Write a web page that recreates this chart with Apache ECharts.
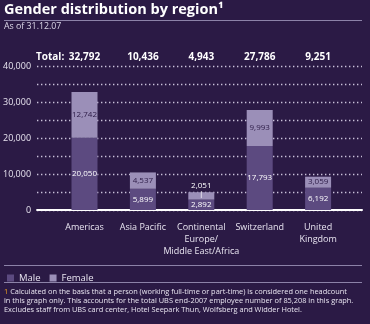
<!DOCTYPE html>
<html><head><meta charset="utf-8">
<script src="https://cdn.jsdelivr.net/npm/echarts@6/dist/echarts.min.js"></script>
<style>html,body{margin:0;padding:0;background:#2b1a45}#c{width:370px;height:324px}</style>
</head><body><div id="c"></div>
<script>
const categories = ['Americas', 'Asia Pacific', 'Continental\nEurope/\nMiddle East/Africa', 'Switzerland', 'United\nKingdom'];
const male = [20050, 5899, 2892, 17793, 6192];
const female = [12742, 4537, 2051, 9993, 3059];
const yTicks = [0, 10000, 20000, 30000, 40000];

const fmt = v => Number(v).toLocaleString('en-US');
const totals = male.map((m, i) => fmt(m + female[i]));
const FONT = 'Open Sans';
const BG = '#2b1a45', MALE = '#5c4a80', FEMALE = '#9b8fb8';

const femaleData = female.map((v, i) => i === 2 ? {
  value: v,
  label: { offset: [0, -6], formatter: p => fmt(p.value) + '\n|', color: '#ffffff', lineHeight: 8 }
} : v);

const chart = echarts.init(document.getElementById('c'), null, {renderer: 'canvas'});
chart.setOption({
  backgroundColor: BG,
  textStyle: { fontFamily: FONT },
  animation: false,
  grid: [
    { left: 55.3, right: 22.7, top: 66, bottom: 114 },
    { left: 36, right: 8, top: 66, bottom: 114 }
  ],
  xAxis: [
    { type: 'category', gridIndex: 0, data: categories,
      axisLine: { show: false }, axisTick: { show: false },
      axisLabel: { color: '#e8e4f0', fontSize: 9, lineHeight: 12, margin: 11, interval: 0, fontFamily: FONT } },
    { type: 'category', gridIndex: 0, position: 'top', data: totals,
      axisLine: { show: false }, axisTick: { show: false },
      axisLabel: { color: '#ffffff', fontSize: 10, fontWeight: 'bold', margin: 4, interval: 0, fontFamily: FONT } },
    { type: 'category', gridIndex: 1, data: [''],
      axisLine: { show: true, lineStyle: { color: '#ffffff', width: 2 } },
      axisTick: { show: false }, axisLabel: { show: false } }
  ],
  yAxis: [
    { type: 'value', gridIndex: 0, min: 0, max: 40000, interval: 5000, show: false, splitLine: { show: false } },
    { type: 'value', gridIndex: 1, min: 0, max: 40000, interval: 5000,
      axisLine: { show: false }, axisTick: { show: false },
      axisLabel: { color: '#e8e4f0', fontSize: 9, margin: 6, fontFamily: FONT,
        formatter: v => yTicks.includes(v) ? fmt(v) : '' },
      splitLine: { show: true, lineStyle: { color: '#d4cde3', width: 1.3, type: [1.3, 2.7] } } }
  ],
  legend: {
    left: 2, top: 268, itemWidth: 7, itemHeight: 7, itemGap: 9, icon: 'rect',
    textStyle: { color: '#e8e4f0', fontSize: 9.5, fontFamily: FONT },
    data: ['Male', 'Female']
  },
  series: [
    { name: 'Male', type: 'bar', stack: 'g', xAxisIndex: 0, yAxisIndex: 0, barWidth: 26,
      itemStyle: { color: MALE }, data: male,
      label: { show: true, position: 'inside', color: '#ffffff', fontSize: 8, formatter: p => fmt(p.value) } },
    { name: 'Female', type: 'bar', stack: 'g', xAxisIndex: 0, yAxisIndex: 0, barWidth: 26,
      itemStyle: { color: FEMALE }, data: femaleData,
      label: { show: true, position: 'inside', color: '#2b1a45', fontSize: 8, formatter: p => fmt(p.value) } }
  ],
  graphic: [
    { type: 'text', left: 4, top: 2, style: { text: 'Gender distribution by region¹', fill: '#ffffff', font: 'bold 14.5px "Open Sans"' } },
    { type: 'line', shape: { x1: 4, y1: 20.5, x2: 362, y2: 20.5 }, style: { stroke: '#8c82a8', lineWidth: 1 } },
    { type: 'text', left: 4, top: 22, style: { text: 'As of 31.12.07', fill: '#ddd8e8', font: '8.8px "Open Sans"' } },
    { type: 'text', left: 36, top: 52, style: { text: 'Total:', fill: '#ffffff', font: 'bold 10px "Open Sans"' } },
    { type: 'line', shape: { x1: 4, y1: 265.5, x2: 362, y2: 265.5 }, style: { stroke: '#8c82a8', lineWidth: 1 } },
    { type: 'line', shape: { x1: 4, y1: 282.5, x2: 362, y2: 282.5 }, style: { stroke: '#8c82a8', lineWidth: 1 } },
    { type: 'text', left: 4, top: 287, style: {
      text: '{o|1} Calculated on the basis that a person (working full-time or part-time) is considered one headcount\nin this graph only. This accounts for the total UBS end-2007 employee number of 85,208 in this graph.\nExcludes staff from UBS card center, Hotel Seepark Thun, Wolfsberg and Widder Hotel.',
      fill: '#e8e4f0', fontSize: 7.4, fontFamily: 'Open Sans', lineHeight: 9,
      rich: { o: { fill: '#f0a020', fontSize: 7.4, fontFamily: 'Open Sans' } } } }
  ]
});
</script></body></html>
